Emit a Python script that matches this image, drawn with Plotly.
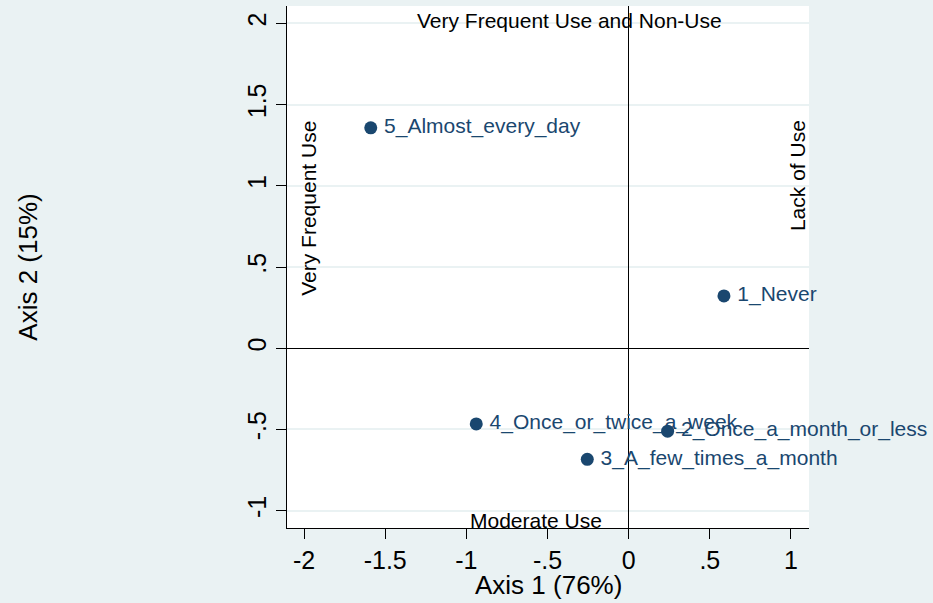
import plotly.graph_objects as go

categories = ["1_Never", "2_Once_a_month_or_less", "3_A_few_times_a_month",
              "4_Once_or_twice_a_week", "5_Almost_every_day"]
axis1 = [0.587, 0.240, -0.255, -0.939, -1.589]
axis2 = [0.322, -0.511, -0.684, -0.466, 1.357]

x_tickvals = [-2, -1.5, -1, -0.5, 0, 0.5, 1]
x_ticktext = ["-2", "-1.5", "-1", "-.5", "0", ".5", "1"]
y_tickvals = [-1, -0.5, 0, 0.5, 1, 1.5, 2]
y_ticktext = ["-1", "-.5", "0", ".5", "1", "1.5", "2"]

x_title = "Axis 1 (76%)"
y_title = "Axis 2 (15%)"

BG = "#EAF2F3"
NAVY = "#1A476F"
FONT = "Liberation Sans, Arial, sans-serif"

fig = go.Figure()
fig.add_trace(go.Scatter(
    x=axis1, y=axis2, text=["\u2009" + c for c in categories],
    mode="markers+text", textposition="middle right",
    marker=dict(size=13, color=NAVY),
    textfont=dict(family=FONT, size=21, color=NAVY),
    cliponaxis=False, showlegend=False,
))

ann_font = dict(family=FONT, size=21, color="black")
annotations = [
    dict(text="Very Frequent Use and Non-Use", x=-0.362, y=2.017, xref="x", yref="y",
         showarrow=False, font=ann_font, xanchor="center", yanchor="middle"),
    dict(text="Moderate Use", x=-0.571, y=-1.06, xref="x", yref="y",
         showarrow=False, font=ann_font, xanchor="center", yanchor="middle"),
    dict(text="Very Frequent Use", x=-1.969, y=0.859, xref="x", yref="y", textangle=-90,
         showarrow=False, font=ann_font, xanchor="center", yanchor="middle"),
    dict(text="Lack of Use", x=1.037, y=1.066, xref="x", yref="y", textangle=-90,
         showarrow=False, font=ann_font, xanchor="center", yanchor="middle"),
    dict(text=x_title, x=0.5, y=-0.109, xref="paper", yref="paper",
         showarrow=False, font=dict(family=FONT, size=26, color="black"),
         xanchor="center", yanchor="middle"),
]

fig.update_layout(
    width=933, height=603,
    margin=dict(l=287, r=124, t=6, b=75, autoexpand=False),
    paper_bgcolor=BG, plot_bgcolor="white",
    font=dict(family=FONT, color="black"),
    annotations=annotations,
    xaxis=dict(
        range=[-2.105, 1.111], tickvals=x_tickvals, ticktext=x_ticktext,
        showgrid=False, zeroline=True, zerolinecolor="black", zerolinewidth=1,
        showline=True, linecolor="black", linewidth=1,
        ticks="outside", ticklen=10, tickcolor="black", tickwidth=1,
        tickfont=dict(family=FONT, size=25, color="black"),
        automargin=False,
    ),
    yaxis=dict(
        range=[-1.107, 2.107], tickvals=y_tickvals, ticktext=y_ticktext,
        showgrid=True, gridcolor=BG, gridwidth=2,
        zeroline=True, zerolinecolor="black", zerolinewidth=1,
        showline=True, linecolor="black", linewidth=1,
        ticks="outside", ticklen=10, tickcolor="black", tickwidth=1,
        tickangle=-90,
        tickfont=dict(family=FONT, size=25, color="black"),
        title=dict(text=y_title, font=dict(family=FONT, size=26, color="black"), standoff=197),
        automargin=False,
    ),
)

fig.write_html(
    "out.html",
    config={"displayModeBar": False},
    post_script="document.body.style.margin='0';document.body.style.padding='0';"
                "document.body.style.overflow='hidden';",
)
